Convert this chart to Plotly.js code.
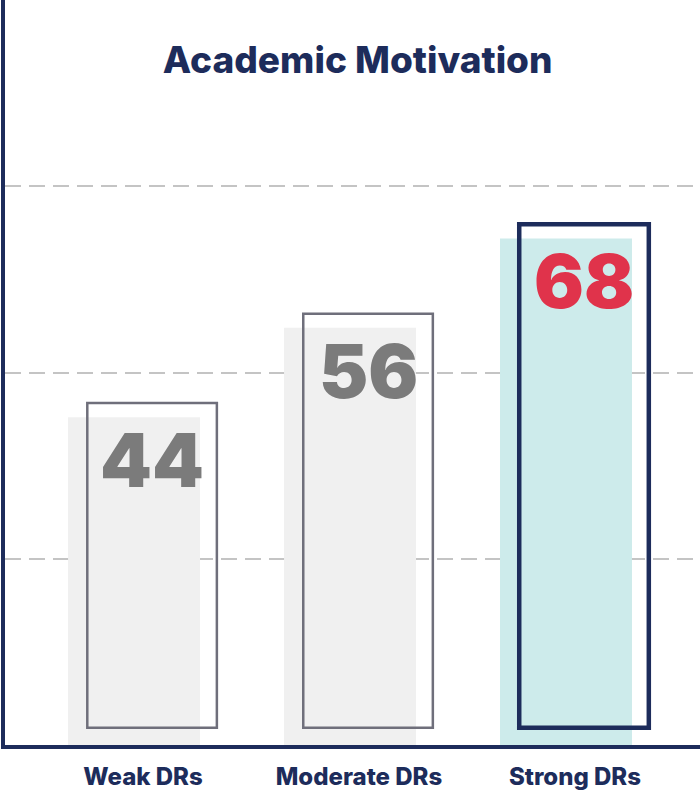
<!DOCTYPE html>
<html>
<head>
<meta charset="utf-8">
<script src="https://cdn.plot.ly/plotly-3.0.1.min.js"></script>
<style>
  html, body { margin: 0; padding: 0; background: #ffffff; }
  #chart { width: 700px; height: 793px; }
</style>
</head>
<body>
<div id="chart"></div>
<script>
// ---- data ----
const categories = ["Weak DRs", "Moderate DRs", "Strong DRs"];
const values = [44, 56, 68];
const valueLabels = ["44", "56", "68"];
const chartTitle = "Academic Motivation";

// ---- styles ----
const NAVY = "#1d2c5b";
const fillColors = ["#f0f0f0", "#f0f0f0", "#cdebeb"];
const outlineColors = ["#6f6f7b", "#6f6f7b", NAVY];
const outlineWidths = [2.5, 2.5, 4.5];
const labelColors = ["#7b7b7b", "#7b7b7b", "#e0334b"];
const FONT = "Inter, Lato, 'Open Sans', 'DejaVu Sans', sans-serif";

const xIdx = categories.map((_, i) => i);

const filled = {
  type: "bar",
  x: xIdx,
  y: values,
  width: 0.611,
  offset: -0.347,
  marker: { color: fillColors, line: { width: 0 } },
  hoverinfo: "skip",
  showlegend: false
};

const outline = {
  type: "bar",
  x: xIdx,
  y: values.map(v => v - 0.4),
  base: values.map(() => 2.3),
  width: 0.6,
  offset: -0.258,
  marker: { color: "rgba(0,0,0,0)", line: { color: outlineColors, width: outlineWidths } },
  hoverinfo: "skip",
  showlegend: false
};

const annotations = values.map((v, i) => ({
  x: i + 0.042,
  y: v,
  xref: "x",
  yref: "y",
  text: valueLabels[i],
  showarrow: false,
  xanchor: "center",
  yanchor: "middle",
  yshift: -43,
  font: { family: FONT, size: 74, color: labelColors[i], weight: 900 }
}));

const layout = {
  width: 700,
  height: 793,
  margin: { l: 5, r: 0, t: 0, b: 48 },
  paper_bgcolor: "#ffffff",
  plot_bgcolor: "#ffffff",
  barmode: "overlay",
  title: {
    text: chartTitle,
    x: 0.511,
    xanchor: "center",
    y: 1 - 60 / 793,
    yanchor: "middle",
    font: { family: FONT, size: 37, color: NAVY, weight: 800 }
  },
  xaxis: {
    range: [-0.639, 2.579],
    tickvals: xIdx,
    ticktext: categories,
    tickfont: { family: FONT, size: 24, color: NAVY, weight: 800 },
    ticklabelstandoff: 7,
    showgrid: false,
    zeroline: false,
    showline: true,
    linecolor: NAVY,
    linewidth: 4,
    ticks: "",
    fixedrange: true
  },
  yaxis: {
    range: [0, 100],
    tickvals: [25, 50, 75],
    showticklabels: false,
    showgrid: true,
    gridcolor: "#c4c4c4",
    gridwidth: 2,
    griddash: "16px,8px",
    zeroline: false,
    showline: true,
    linecolor: NAVY,
    linewidth: 4,
    ticks: "",
    fixedrange: true
  },
  annotations: annotations
};

Plotly.newPlot("chart", [filled, outline], layout, { displayModeBar: false, staticPlot: true });
</script>
</body>
</html>
